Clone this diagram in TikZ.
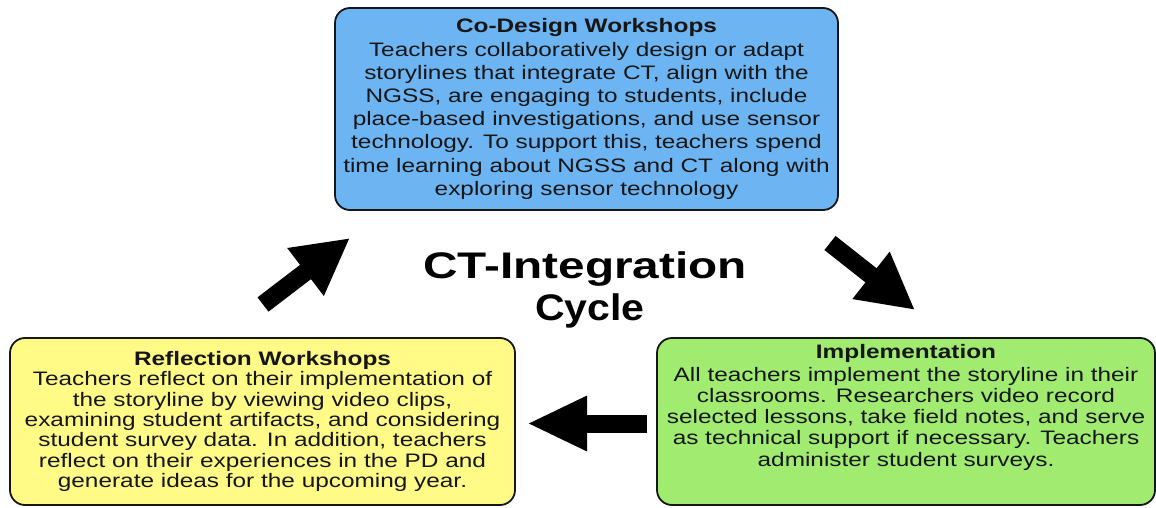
\documentclass[tikz,border=0pt]{standalone}
\usepackage{fontspec}
\setmainfont[FakeStretch=1.25]{Liberation Sans}
\newfontfamily\titlefont[FakeStretch=1.29]{Liberation Sans}
\usetikzlibrary{arrows.meta,calc}
\definecolor{boxblue}{RGB}{108,180,242}
\definecolor{boxyellow}{RGB}{255,251,134}
\definecolor{boxgreen}{RGB}{160,235,112}
\definecolor{ink}{RGB}{22,22,22}
\tikzset{
  stagebox/.style={draw=ink, line width=1.8pt, rounded corners=15pt, inner sep=0pt, align=center, text=ink},
  bodytext/.style={align=center, inner sep=0pt, text=ink},
  blockarrow/.style={draw=black, line width=18pt, line cap=butt, -{Triangle[length=56pt,width=56pt]}}
}
\begin{document}
\begin{tikzpicture}[x=1pt,y=-1pt]
\useasboundingbox (0,0) rectangle (1156,508);
\fill[white] (0,0) rectangle (1156,508);

% boxes
\node[stagebox, fill=boxblue, minimum width=503pt, minimum height=202pt,
      font=\fontsize{19.5}{23.2}\selectfont] (codesign) at (586.5,109)
  {\textbf{Co-Design Workshops}\\
   Teachers collaboratively design or adapt\\
   storylines that integrate CT, align with the\\
   NGSS, are engaging to students, include\\
   place-based investigations, and use sensor\\
   technology. To support this, teachers spend\\
   time learning about NGSS and CT along with\\
   exploring sensor technology};

\node[stagebox, fill=boxgreen, minimum width=498pt, minimum height=167pt] (impl) at (906,421.5) {};
\node[bodytext, font=\fontsize{19.5}{21.2}\selectfont] (impltext) at (906,407)
  {\textbf{Implementation}\\[2pt]
   All teachers implement the storyline in their\\
   classrooms. Researchers video record\\
   selected lessons, take field notes, and serve\\
   as technical support if necessary. Teachers\\
   administer student surveys.};

\node[stagebox, fill=boxyellow, minimum width=505pt, minimum height=167pt,
      font=\fontsize{19.5}{20.4}\selectfont] (reflect) at (262.5,421.5)
  {\textbf{Reflection Workshops}\\
   Teachers reflect on their implementation of\\
   the storyline by viewing video clips,\\
   examining student artifacts, and considering\\
   student survey data. In addition, teachers\\
   reflect on their experiences in the PD and\\
   generate ideas for the upcoming year.};

% centre title
\node[bodytext, text=black, font=\titlefont\bfseries\fontsize{37}{42}\selectfont] (title) at (585,289.5)
  {CT-Integration\\ \hspace*{10pt}\scalebox{0.86}[1]{Cycle}};

% arrows
\coordinate (a1s) at (263,304.5);
\coordinate (a1e) at (350,238);
\coordinate (a2s) at (830,243);
\coordinate (a2e) at (915,310);
\coordinate (a3s) at (647,423.5);
\coordinate (a3e) at (527,423.5);
\draw[blockarrow] (a1s) -- (a1e);
\draw[blockarrow] (a2s) -- (a2e);
\draw[blockarrow, -{Triangle[length=60pt,width=51pt]}] (a3s) -- (a3e);
\end{tikzpicture}
\end{document}
